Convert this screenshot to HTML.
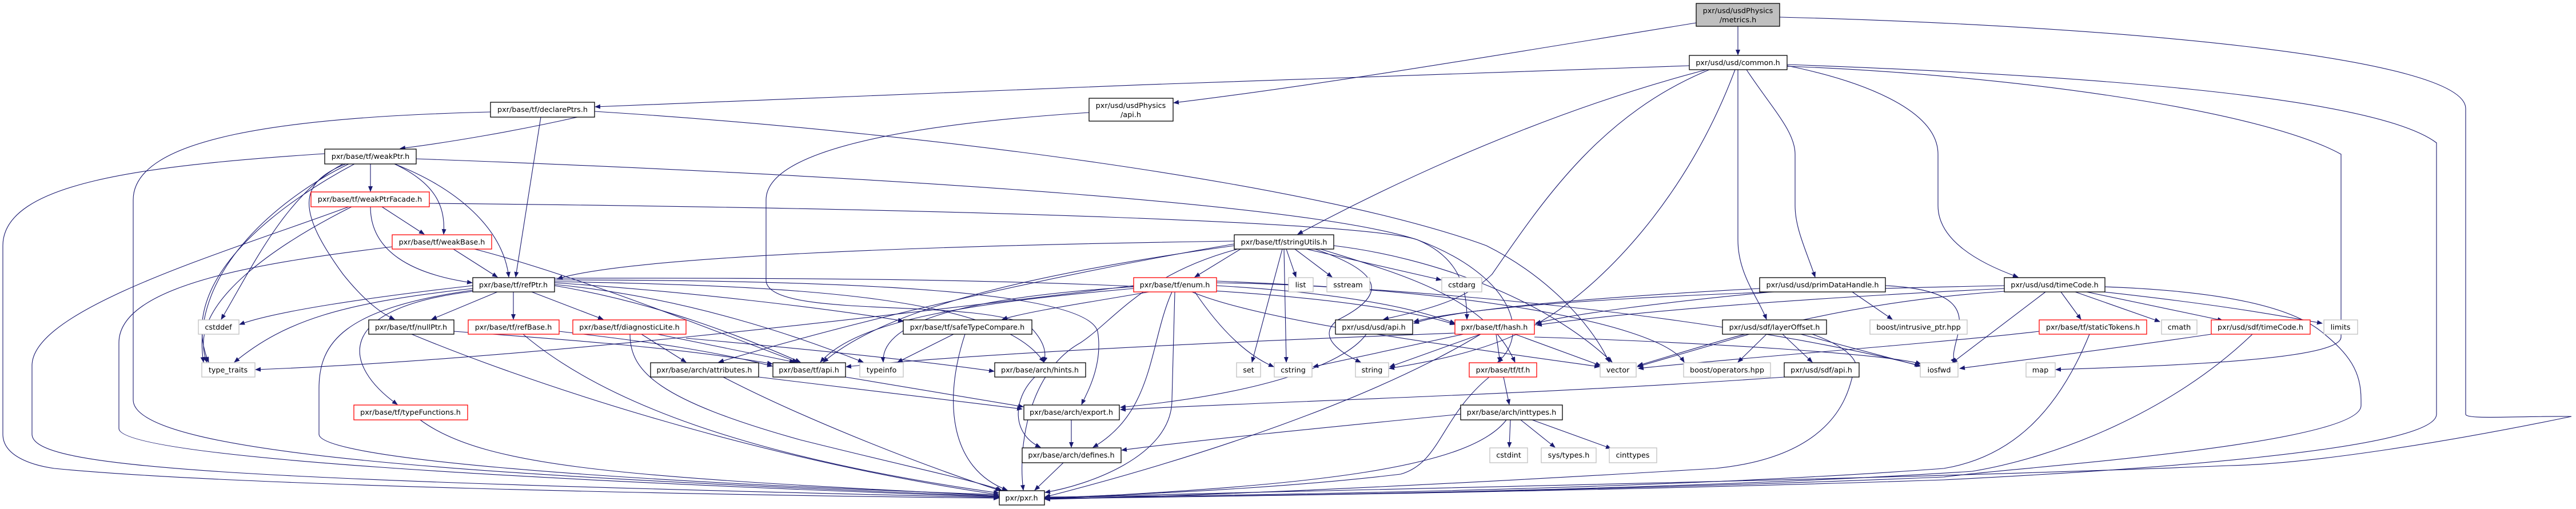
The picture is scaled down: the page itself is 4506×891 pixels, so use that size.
<!DOCTYPE html>
<html><head><meta charset="utf-8"><style>
html,body{margin:0;padding:0;background:#fff}
svg{display:block}
text{font-family:"DejaVu Sans","Liberation Sans",sans-serif;font-size:12.8px;text-anchor:middle;fill:#000}
.e{fill:none;stroke:#191970;stroke-width:1.1}
</style></head><body>
<svg width="4506" height="891" viewBox="0 0 4506 891" xmlns="http://www.w3.org/2000/svg">
<defs><marker id="a" markerWidth="10" markerHeight="8" refX="9" refY="4" orient="auto" markerUnits="userSpaceOnUse"><path d="M0,0 L10,4 L0,8 z" fill="#191970"/></marker></defs>
<g class="e" marker-end="url(#a)">
<path d="M3040 46 L3040 96"/>
<path d="M2967 40 C2600 100 2300 150 2053 180"/>
<path d="M3113 30 C3700 45 4313 100 4313 190 L4313 725 C4313 735 4400 728 4498 729 C4300 770 4050 812 3900 815 C3300 840 2200 860 1828 871"/>
<path d="M2955 115 C2500 130 1500 165 1041 187"/>
<path d="M2985 122 C2800 170 2550 260 2270 410"/>
<path d="M2990 122 C2800 200 2700 350 2610 480 C2560 530 2480 545 2420 559"/>
<path d="M3035 122 C2950 350 2800 500 2700 560 C2620 610 2520 630 2430 645"/>
<path d="M3040 122 L3040 420 C3040 480 3075 520 3090 559"/>
<path d="M3055 122 C3100 190 3140 230 3140 270 L3140 360 C3140 400 3160 440 3175 485"/>
<path d="M3126 115 C3250 140 3390 190 3390 270 L3390 360 C3390 420 3460 460 3530 485"/>
<path d="M3126 116 C3500 130 3950 190 4095 270 L4095 590 C4095 630 3800 640 3596 647"/>
<path d="M3126 113 C3600 130 4150 165 4262 250 L4262 725 C4262 790 3700 825 3400 840 C2800 860 2200 868 1828 873"/>
<path d="M1010 205 C900 230 780 250 700 260"/>
<path d="M946 205 L902 485"/>
<path d="M858 196 C500 205 233 240 233 350 L233 700 C233 800 900 835 1747 869"/>
<path d="M1040 195 C1600 230 2300 320 2600 430 C2700 480 2780 560 2815 634"/>
<path d="M648 287 L648 335"/>
<path d="M690 287 C760 320 780 360 776 410"/>
<path d="M690 287 C800 330 880 400 890 485"/>
<path d="M605 287 C520 320 520 370 600 480 C640 530 670 550 690 559"/>
<path d="M600 287 C500 340 440 470 387 559"/>
<path d="M610 287 C500 340 330 470 356 634"/>
<path d="M620 287 C520 340 300 480 365 634"/>
<path d="M568 269 C250 290 5 320 5 430 L5 760 C5 800 60 815 95 820 C400 850 1200 866 1747 872"/>
<path d="M728 278 C1600 310 2300 360 2480 420 C2640 480 2680 580 2620 634"/>
<path d="M668 362 L742 410"/>
<path d="M648 362 C648 440 720 480 826 495"/>
<path d="M615 362 C500 420 320 530 362 634"/>
<path d="M610 362 C400 440 56 540 56 640 L56 760 C56 820 400 840 1747 871"/>
<path d="M751 356 C1700 365 2400 390 2480 420 C2550 450 2566 500 2566 559"/>
<path d="M793 436 L870 485"/>
<path d="M686 432 C450 460 208 500 208 600 L208 750 C208 800 900 840 1747 870"/>
<path d="M830 436 C1000 480 1200 560 1395 634"/>
<path d="M827 500 C650 520 480 545 419 568"/>
<path d="M870 511 L755 559"/>
<path d="M898 511 L898 559"/>
<path d="M930 511 L1055 559"/>
<path d="M827 505 C600 530 500 560 410 634"/>
<path d="M827 510 C580 540 600 640 695 708"/>
<path d="M827 508 C600 540 558 600 558 680 L558 760 C558 800 1000 840 1747 866"/>
<path d="M970 500 C1150 530 1300 590 1400 634"/>
<path d="M970 498 C1200 520 1400 590 1510 634"/>
<path d="M970 495 C1200 510 1450 540 1580 562"/>
<path d="M970 493 C1400 500 1750 520 1826 634"/>
<path d="M970 490 C1500 490 1900 510 1920 580 C1930 640 1900 690 1892 708"/>
<path d="M970 487 C1600 486 2300 490 2545 568"/>
<path d="M1983 500 C1500 560 900 630 447 647"/>
<path d="M794 580 C1000 595 1200 610 1351 637"/>
<path d="M720 585 C900 660 1300 800 1747 866"/>
<path d="M978 580 C1150 600 1250 615 1351 641"/>
<path d="M915 585 C1050 700 1300 800 1747 863"/>
<path d="M735 735 C850 820 1100 835 1747 868"/>
<path d="M1122 585 L1200 634"/>
<path d="M1150 585 L1390 634"/>
<path d="M1200 592 C1400 610 1600 630 1739 650"/>
<path d="M1102 585 C1102 650 1150 700 1400 770 C1600 820 1700 840 1752 858"/>
<path d="M1668 585 L1570 634"/>
<path d="M1688 585 C1650 700 1660 820 1762 858"/>
<path d="M1905 197 C1550 220 1340 270 1340 350 L1340 490 C1340 560 1700 520 1800 570 C1830 600 1830 620 1826 634"/>
<path d="M2170 436 L2090 485"/>
<path d="M2250 436 L2267 485"/>
<path d="M2265 436 L2330 485"/>
<path d="M2285 436 L2521 490"/>
<path d="M2243 436 L2190 634"/>
<path d="M2246 436 L2250 634"/>
<path d="M2300 436 C2430 480 2420 520 2340 560 C2300 590 2350 620 2380 634"/>
<path d="M2333 430 C2500 450 2700 520 2820 634"/>
<path d="M2159 430 C1800 480 1550 540 1440 634"/>
<path d="M2159 427 C1850 480 1500 560 1257 634"/>
<path d="M2165 436 C2000 480 1950 560 1890 600 C1800 650 1780 780 1790 858"/>
<path d="M2310 436 C2450 480 2600 520 2650 634"/>
<path d="M2159 422 C1600 430 1100 450 975 488"/>
<path d="M2010 511 C1900 530 1800 545 1753 559"/>
<path d="M1983 505 C1700 530 1500 560 1435 634"/>
<path d="M1983 502 C1700 520 1540 560 1545 634"/>
<path d="M2050 511 C2010 600 2020 720 1912 783"/>
<path d="M2055 511 L2050 700 C2050 800 1900 850 1828 862"/>
<path d="M2128 500 C2300 510 2450 530 2545 566"/>
<path d="M2085 511 C2200 560 2500 600 2798 642"/>
<path d="M2090 511 C2150 600 2200 630 2228 642"/>
<path d="M2128 495 C2500 500 2900 560 2946 634"/>
<path d="M2128 492 C2800 520 3200 600 3358 640"/>
<path d="M2390 585 C2350 640 2200 690 1960 713"/>
<path d="M2617 585 L2624 634"/>
<path d="M2590 585 L2431 642"/>
<path d="M2650 585 L2800 640"/>
<path d="M2560 585 L2297 642"/>
<path d="M2590 585 C2400 700 2100 800 1828 870"/>
<path d="M2684 590 C3000 600 3300 620 3360 637"/>
<path d="M2545 583 C2100 600 1700 620 1480 642"/>
<path d="M2630 660 L2640 708"/>
<path d="M2605 660 C2520 730 2520 810 2450 830 C2200 860 1900 868 1828 872"/>
<path d="M2642 735 L2640 783"/>
<path d="M2660 735 L2720 783"/>
<path d="M2680 735 L2818 785"/>
<path d="M2635 735 C2570 820 2300 850 1828 873"/>
<path d="M2555 725 C2300 750 2100 770 1962 788"/>
<path d="M3060 585 L2864 642"/>
<path d="M3090 585 L3040 634"/>
<path d="M3118 585 L3170 634"/>
<path d="M3150 585 L3360 641"/>
<path d="M3170 585 C3240 610 3260 640 3240 660 C3230 700 3200 800 3000 820 C2500 850 2100 868 1828 874"/>
<path d="M3122 660 C2700 690 2300 700 1960 717"/>
<path d="M3078 505 C2800 520 2550 540 2473 566"/>
<path d="M3100 511 C2900 530 2750 550 2686 566"/>
<path d="M3240 511 L3310 559"/>
<path d="M3298 500 C3500 510 3400 600 3420 636"/>
<path d="M3506 500 C3000 510 2600 530 2473 563"/>
<path d="M3506 505 C3200 520 2900 540 2688 569"/>
<path d="M3605 511 L3640 559"/>
<path d="M3630 511 L3778 563"/>
<path d="M3650 511 L3888 561"/>
<path d="M3680 511 C3850 530 3950 545 4062 566"/>
<path d="M3578 511 L3415 635"/>
<path d="M3682 502 C3900 510 4010 540 4060 580 C4110 620 4130 650 4130 700 L4130 710 C4130 780 3500 820 3400 835 C2800 860 2200 868 1828 872"/>
<path d="M3506 510 C3200 530 3000 600 2865 640"/>
<path d="M3655 585 C3600 720 3520 800 3400 820 C3000 850 2400 866 1828 870"/>
<path d="M3567 580 C3400 600 3000 630 2866 645"/>
<path d="M3868 585 C3700 610 3500 635 3428 645"/>
<path d="M3940 585 C3800 720 3600 800 3450 825 C3000 855 2300 868 1828 872"/>
<path d="M1327 660 L1788 716"/>
<path d="M1265 660 C1400 730 1600 810 1750 859"/>
<path d="M1479 660 L1790 712"/>
<path d="M1810 660 C1770 700 1770 760 1820 783"/>
<path d="M1874 735 L1874 783"/>
<path d="M1860 810 L1810 858"/>
</g>
<g stroke-width="1.3">
<rect x="2967" y="6" width="146" height="40" fill="#bfbfbf" stroke="#000"/>
<text x="3040" y="23">pxr/usd/usdPhysics</text><text x="3040" y="39">/metrics.h</text>
<rect x="2955" y="97" width="171" height="25" fill="#fff" stroke="#000"/><text x="3040" y="114">pxr/usd/usd/common.h</text>
<rect x="1905" y="172" width="147" height="40" fill="#fff" stroke="#000"/>
<text x="1978" y="189">pxr/usd/usdPhysics</text><text x="1978" y="205">/api.h</text>
<rect x="858" y="179" width="182" height="26" fill="#fff" stroke="#000"/><text x="949" y="196">pxr/base/tf/declarePtrs.h</text>
<rect x="568" y="261" width="160" height="26" fill="#fff" stroke="#000"/><text x="648" y="278">pxr/base/tf/weakPtr.h</text>
<rect x="544" y="336" width="207" height="26" fill="#fff" stroke="#f00"/><text x="647" y="353">pxr/base/tf/weakPtrFacade.h</text>
<rect x="686" y="411" width="174" height="25" fill="#fff" stroke="#f00"/><text x="773" y="428">pxr/base/tf/weakBase.h</text>
<rect x="2159" y="411" width="174" height="25" fill="#fff" stroke="#000"/><text x="2246" y="428">pxr/base/tf/stringUtils.h</text>
<rect x="827" y="486" width="143" height="25" fill="#fff" stroke="#000"/><text x="898" y="503">pxr/base/tf/refPtr.h</text>
<rect x="1983" y="486" width="145" height="25" fill="#fff" stroke="#f00"/><text x="2055" y="503">pxr/base/tf/enum.h</text>
<rect x="2254" y="486" width="43" height="25" fill="#fff" stroke="#bfbfbf"/><text x="2275" y="503">list</text>
<rect x="2321" y="486" width="75" height="25" fill="#fff" stroke="#bfbfbf"/><text x="2358" y="503">sstream</text>
<rect x="2522" y="486" width="70" height="25" fill="#fff" stroke="#bfbfbf"/><text x="2557" y="503">cstdarg</text>
<rect x="3078" y="486" width="220" height="25" fill="#fff" stroke="#000"/><text x="3188" y="503">pxr/usd/usd/primDataHandle.h</text>
<rect x="3506" y="486" width="176" height="25" fill="#fff" stroke="#000"/><text x="3594" y="503">pxr/usd/usd/timeCode.h</text>
<rect x="347" y="560" width="71" height="25" fill="#fff" stroke="#bfbfbf"/><text x="382" y="577">cstddef</text>
<rect x="645" y="560" width="149" height="25" fill="#fff" stroke="#000"/><text x="719" y="577">pxr/base/tf/nullPtr.h</text>
<rect x="819" y="560" width="159" height="25" fill="#fff" stroke="#f00"/><text x="898" y="577">pxr/base/tf/refBase.h</text>
<rect x="1002" y="560" width="198" height="25" fill="#fff" stroke="#f00"/><text x="1101" y="577">pxr/base/tf/diagnosticLite.h</text>
<rect x="1580" y="560" width="225" height="25" fill="#fff" stroke="#000"/><text x="1692" y="577">pxr/base/tf/safeTypeCompare.h</text>
<rect x="2336" y="560" width="135" height="25" fill="#fff" stroke="#000"/><text x="2403" y="577">pxr/usd/usd/api.h</text>
<rect x="2545" y="560" width="139" height="25" fill="#fff" stroke="#f00"/><text x="2614" y="577">pxr/base/tf/hash.h</text>
<rect x="3013" y="560" width="182" height="25" fill="#fff" stroke="#000"/><text x="3104" y="577">pxr/usd/sdf/layerOffset.h</text>
<rect x="3271" y="560" width="170" height="25" fill="#fff" stroke="#bfbfbf"/><text x="3356" y="577">boost/intrusive_ptr.hpp</text>
<rect x="3567" y="560" width="188" height="25" fill="#fff" stroke="#f00"/><text x="3661" y="577">pxr/base/tf/staticTokens.h</text>
<rect x="3781" y="560" width="62" height="25" fill="#fff" stroke="#bfbfbf"/><text x="3812" y="577">cmath</text>
<rect x="3868" y="560" width="173" height="25" fill="#fff" stroke="#f00"/><text x="3954" y="577">pxr/usd/sdf/timeCode.h</text>
<rect x="4065" y="560" width="59" height="25" fill="#fff" stroke="#bfbfbf"/><text x="4094" y="577">limits</text>
<rect x="353" y="635" width="93" height="25" fill="#fff" stroke="#bfbfbf"/><text x="399" y="652">type_traits</text>
<rect x="1138" y="635" width="189" height="25" fill="#fff" stroke="#000"/><text x="1232" y="652">pxr/base/arch/attributes.h</text>
<rect x="1352" y="635" width="127" height="25" fill="#fff" stroke="#000"/><text x="1415" y="652">pxr/base/tf/api.h</text>
<rect x="1504" y="635" width="76" height="25" fill="#fff" stroke="#bfbfbf"/><text x="1542" y="652">typeinfo</text>
<rect x="1740" y="635" width="159" height="25" fill="#fff" stroke="#000"/><text x="1819" y="652">pxr/base/arch/hints.h</text>
<rect x="2163" y="635" width="42" height="25" fill="#fff" stroke="#bfbfbf"/><text x="2184" y="652">set</text>
<rect x="2229" y="635" width="66" height="25" fill="#fff" stroke="#bfbfbf"/><text x="2262" y="652">cstring</text>
<rect x="2371" y="635" width="58" height="25" fill="#fff" stroke="#bfbfbf"/><text x="2400" y="652">string</text>
<rect x="2570" y="635" width="118" height="25" fill="#fff" stroke="#f00"/><text x="2629" y="652">pxr/base/tf/tf.h</text>
<rect x="2799" y="635" width="63" height="25" fill="#fff" stroke="#bfbfbf"/><text x="2830" y="652">vector</text>
<rect x="2945" y="635" width="152" height="25" fill="#fff" stroke="#bfbfbf"/><text x="3021" y="652">boost/operators.hpp</text>
<rect x="3121" y="635" width="131" height="25" fill="#fff" stroke="#000"/><text x="3186" y="652">pxr/usd/sdf/api.h</text>
<rect x="3359" y="635" width="66" height="25" fill="#fff" stroke="#bfbfbf"/><text x="3392" y="652">iosfwd</text>
<rect x="3544" y="635" width="51" height="25" fill="#fff" stroke="#bfbfbf"/><text x="3569" y="652">map</text>
<rect x="619" y="709" width="199" height="26" fill="#fff" stroke="#f00"/><text x="718" y="726">pxr/base/tf/typeFunctions.h</text>
<rect x="1791" y="709" width="167" height="26" fill="#fff" stroke="#000"/><text x="1874" y="726">pxr/base/arch/export.h</text>
<rect x="2555" y="709" width="178" height="26" fill="#fff" stroke="#000"/><text x="2644" y="726">pxr/base/arch/inttypes.h</text>
<rect x="1788" y="784" width="173" height="26" fill="#fff" stroke="#000"/><text x="1874" y="801">pxr/base/arch/defines.h</text>
<rect x="2606" y="784" width="66" height="26" fill="#fff" stroke="#bfbfbf"/><text x="2639" y="801">cstdint</text>
<rect x="2696" y="784" width="96" height="26" fill="#fff" stroke="#bfbfbf"/><text x="2744" y="801">sys/types.h</text>
<rect x="2815" y="784" width="83" height="26" fill="#fff" stroke="#bfbfbf"/><text x="2856" y="801">cinttypes</text>
<rect x="1748" y="859" width="79" height="25" fill="#fff" stroke="#000"/><text x="1787" y="876">pxr/pxr.h</text>
</g>
</svg>
</body></html>
